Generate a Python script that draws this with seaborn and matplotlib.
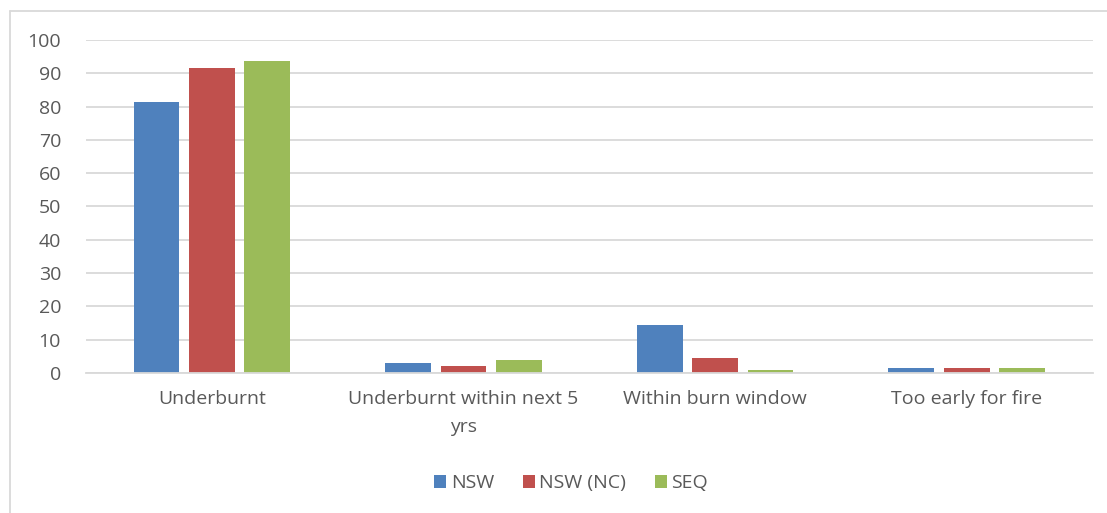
import matplotlib
matplotlib.use("Agg")
import matplotlib.pyplot as plt
from matplotlib.lines import Line2D
import seaborn as sns
import pandas as pd

categories = ["Underburnt", "Underburnt within next 5\nyrs", "Within burn window", "Too early for fire"]
regions = ["NSW", "NSW (NC)", "SEQ"]
nsw = [81.5, 3.0, 14.3, 1.4]
nsw_nc = [91.7, 2.2, 4.6, 1.4]
seq = [93.6, 3.8, 1.0, 1.4]
colors = ["#4F81BD", "#C0504D", "#9BBB59"]

df = pd.DataFrame({
    "category": categories * 3,
    "region": [r for r in regions for _ in categories],
    "value": nsw + nsw_nc + seq,
})

sns.set_theme(style="white")
plt.rcParams["font.family"] = ["Open Sans", "DejaVu Sans"]

FS = 14
fig = plt.figure(figsize=(11.07, 5.13), dpi=100)
ax = fig.add_axes([0.0777, 0.273, 0.9093, 0.649])

sns.barplot(data=df, x="category", y="value", hue="region", order=categories,
            hue_order=regions, palette=dict(zip(regions, colors)),
            width=0.66, gap=0.17, saturation=1, ax=ax, errorbar=None,
            linewidth=0, edgecolor="none")

ax.set_ylim(0, 100)
ax.set_xlim(-0.5, len(categories) - 0.5)
ax.set_yticks(range(0, 101, 10))
ax.yaxis.grid(True, color="#D9D9D9", linewidth=1.3)
ax.set_axisbelow(True)
for side in ["top", "right", "left"]:
    ax.spines[side].set_visible(False)
ax.spines["bottom"].set_color("#D9D9D9")
ax.spines["bottom"].set_linewidth(1.3)
ax.set_xlabel("")
ax.set_ylabel("")
ax.tick_params(axis="y", length=0, pad=18, labelsize=FS, labelcolor="#595959")
ax.tick_params(axis="x", length=0, pad=12, labelsize=FS, labelcolor="#595959")
for lbl in ax.get_xticklabels():
    lbl.set_multialignment("center")
    lbl.set_linespacing(1.75)

handles, labels = ax.get_legend_handles_labels()
ax.legend_.remove()
fig.legend(handles, labels, loc="center", bbox_to_anchor=(0.516, 0.058), ncol=3,
           frameon=False, fontsize=FS, handlelength=0.62, handleheight=0.62,
           handletextpad=0.25, columnspacing=1.45, labelcolor="#595959")

# chart frame
fig.add_artist(Line2D([10 / 1107, 1.0], [1 - 11 / 513] * 2, transform=fig.transFigure,
                      color="#D9D9D9", linewidth=1.3))
fig.add_artist(Line2D([10 / 1107] * 2, [0.0, 1 - 11 / 513], transform=fig.transFigure,
                      color="#D9D9D9", linewidth=1.3))

fig.savefig("out.png", dpi=100, facecolor="white")
